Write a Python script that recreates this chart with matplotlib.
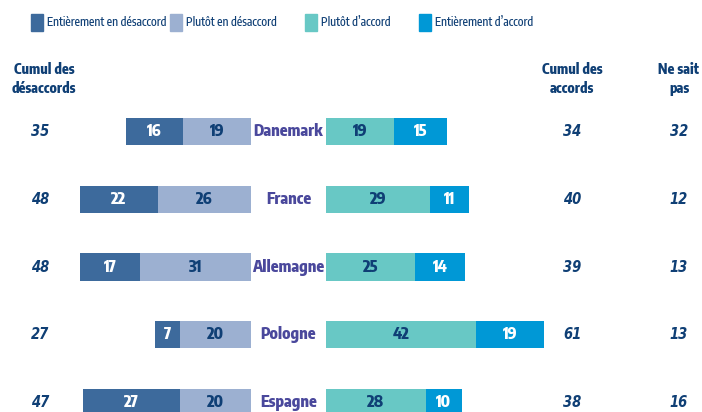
import matplotlib.pyplot as plt
from matplotlib.patches import Rectangle

### data
countries = ["Danemark", "France", "Allemagne", "Pologne", "Espagne"]
tout_desaccord = [16, 22, 17, 7, 27]
plutot_desaccord = [19, 26, 31, 20, 20]
plutot_accord = [19, 29, 25, 42, 28]
tout_accord = [15, 11, 14, 19, 10]
cumul_desaccords = [35, 48, 48, 27, 47]
cumul_accords = [34, 40, 39, 61, 38]
ne_sait_pas = [32, 12, 13, 13, 16]

legend_labels = ["Entièrement en désaccord", "Plutôt en désaccord",
                 "Plutôt d\u2019accord", "Entièrement d\u2019accord"]

### style
c_dark = "#3d6a9c"
c_light = "#9cb0d1"
c_teal = "#68c8c5"
c_blue = "#0098d6"
navy = "#0f3f75"
purple = "#4a489c"
plt.rcParams['font.family'] = ['Encode Sans Condensed', 'DejaVu Sans']
ital = dict(family='DejaVu Sans', stretch='condensed', style='italic', weight='bold')

W, H = 702, 412
px = 3.57          # pixels per percent
x0 = 251           # pixel where the left bars end
gap = 75 / px      # gap between left and right bars (in %)
row_px = 68
top_px = 131

fig = plt.figure(figsize=(W / 100, H / 100), dpi=100)
ax = fig.add_axes([0, 0, 1, 1])
ax.set_xlim(-x0 / px, (W - x0) / px)
ax.set_ylim((H - top_px) / row_px, -top_px / row_px)
ax.axis("off")

bh = 27 / row_px
ys = list(range(len(countries)))

ax.barh(ys, [-v for v in plutot_desaccord], height=bh, color=c_light)
ax.barh(ys, [-v for v in tout_desaccord], left=[-v for v in plutot_desaccord],
        height=bh, color=c_dark)
ax.barh(ys, plutot_accord, left=gap, height=bh, color=c_teal)
ax.barh(ys, tout_accord, left=[gap + v for v in plutot_accord], height=bh, color=c_blue)

def px2x(p):
    return (p - x0) / px

for i, y in enumerate(ys):
    fs = 11.5
    ax.text(-plutot_desaccord[i] - tout_desaccord[i] / 2, y, str(tout_desaccord[i]),
            ha="center", va="center", color="white", fontsize=fs, fontweight=800)
    ax.text(-plutot_desaccord[i] / 2, y, str(plutot_desaccord[i]),
            ha="center", va="center", color=navy, fontsize=fs, fontweight=800)
    ax.text(gap + plutot_accord[i] / 2, y, str(plutot_accord[i]),
            ha="center", va="center", color=navy, fontsize=fs, fontweight=800)
    ax.text(gap + plutot_accord[i] + tout_accord[i] / 2, y, str(tout_accord[i]),
            ha="center", va="center", color="white", fontsize=fs, fontweight=800)
    ax.text(gap / 2, y, countries[i], ha="center", va="center", color=purple,
            fontsize=11.5, fontweight=800)
    ax.text(px2x(40), y, str(cumul_desaccords[i]), ha="center", va="center",
            color=navy, fontsize=10.5, **ital)
    ax.text(px2x(572), y, str(cumul_accords[i]), ha="center", va="center",
            color=navy, fontsize=10.5, **ital)
    ax.text(px2x(679), y, str(ne_sait_pas[i]), ha="center", va="center",
            color=navy, fontsize=10.5, **ital)

### headers (figure pixel coords)
def fy(p):
    return 1 - p / H

for hx, ht in [(44, "Cumul des\ndésaccords"), (572, "Cumul des\naccords"), (679, "Ne sait\npas")]:
    fig.text(hx / W, fy(79), ht, ha="center", va="center", color=navy,
             fontsize=10, fontweight=800, linespacing=1.3)

### legend
legend_x = [31, 170, 305, 419]
legend_colors = [c_dark, c_light, c_teal, c_blue]
for lx, lc, lt in zip(legend_x, legend_colors, legend_labels):
    fig.patches.append(Rectangle((lx / W, fy(31)), 12 / W, 17 / H, color=lc,
                                 transform=fig.transFigure, figure=fig))
    fig.text((lx + 16) / W, fy(22), lt, ha="left", va="center", color=navy,
             fontsize=8.5, fontweight="medium")

fig.savefig("out.png", dpi=100)
